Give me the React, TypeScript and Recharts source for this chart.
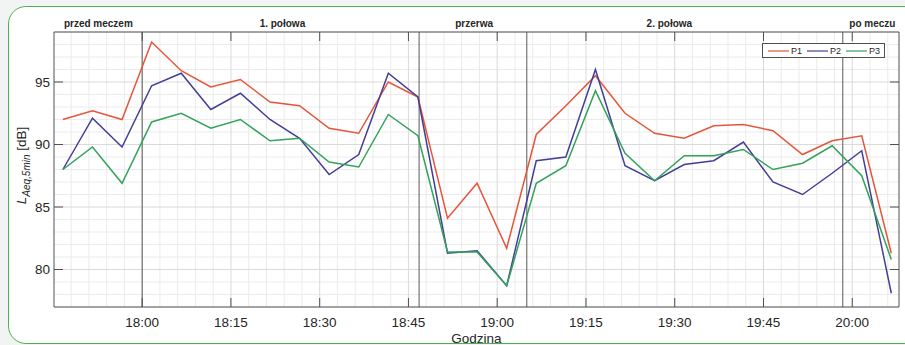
import React from 'react';
import { LineChart, Line, XAxis, YAxis, ReferenceLine } from 'recharts';

// 5-minute L_Aeq values, P1..P3, one per measurement time
const times = [
  '17:46:36', '17:51:36', '17:56:36', '18:01:36', '18:06:36', '18:11:36', '18:16:36', '18:21:36',
  '18:26:36', '18:31:36', '18:36:36', '18:41:36', '18:46:36', '18:51:36', '18:56:36', '19:01:36',
  '19:06:36', '19:11:36', '19:16:36', '19:21:36', '19:26:36', '19:31:36', '19:36:36', '19:41:36',
  '19:46:36', '19:51:36', '19:56:36', '20:01:36', '20:06:36',
];
const p1 = [92.0, 92.7, 92.0, 98.2, 95.9, 94.6, 95.2, 93.4, 93.1, 91.3, 90.9, 95.0, 93.8, 84.1, 86.9, 81.7,
  90.8, 93.1, 95.5, 92.5, 90.9, 90.5, 91.5, 91.6, 91.1, 89.2, 90.3, 90.7, 81.3];
const p2 = [88.0, 92.1, 89.8, 94.7, 95.7, 92.8, 94.1, 92.0, 90.5, 87.6, 89.2, 95.7, 93.8, 81.3, 81.5, 78.7,
  88.7, 89.0, 96.0, 88.3, 87.1, 88.4, 88.7, 90.2, 87.0, 86.0, 87.7, 89.5, 78.1];
const p3 = [88.0, 89.8, 86.9, 91.8, 92.5, 91.3, 92.0, 90.3, 90.5, 88.6, 88.2, 92.4, 90.7, 81.4, 81.4, 78.7,
  86.9, 88.3, 94.3, 89.3, 87.1, 89.1, 89.1, 89.6, 88.0, 88.5, 89.9, 87.5, 80.8];

// x in minutes after 18:00
const xTicks = [0, 15, 30, 45, 60, 75, 90, 105, 120];
const yTicks = [80, 85, 90, 95];
const phaseBounds = [0, 46.8, 65, 118.4];
const phaseNames = ['przed meczem', '1. połowa', 'przerwa', '2. połowa', 'po meczu'];
const phaseLabelAt = [-7.4, 23.7, 56.1, 89.1, 123.4];

const X_DOMAIN = [-14.9, 127.9];
const Y_DOMAIN = [77, 99];

const COLORS = { p1: '#e5553a', p2: '#433f98', p3: '#33a25a' };
const AXIS = '#505050';
const TEXT = '#262626';
const FONT = '"Liberation Sans", Arial, Helvetica, sans-serif';

const toMin = (s: string) => {
  const [h, m, sec] = s.split(':').map(Number);
  return (h - 18) * 60 + m + sec / 60;
};
const fmtTime = (v: number) => {
  const t = 18 * 60 + v;
  return `${Math.floor(t / 60)}:${String(t % 60).padStart(2, '0')}`;
};

const data = times.map((t, i) => ({ t: toMin(t), p1: p1[i], p2: p2[i], p3: p3[i] }));

// minor grid: every 3 min / every 1 dB
const minorX: number[] = [];
for (let v = -12; v <= 126; v += 3) if (v % 15 !== 0) minorX.push(v);
const minorY: number[] = [];
for (let v = 77; v <= 99; v += 1) if (v % 5 !== 0) minorY.push(v);

const NoTick = () => <g />;

const YLabel = (props: any) => {
  const vb = props.viewBox || { x: 0, y: 32, width: 54, height: 275 };
  const cx = vb.x + 26;
  const cy = vb.y + vb.height / 2 - 4;
  return (
    <text
      x={cx}
      y={cy}
      transform={`rotate(-90, ${cx}, ${cy})`}
      textAnchor="middle"
      fill={TEXT}
      fontSize={13.5}
      fontFamily={FONT}
    >
      <tspan fontStyle="italic">L</tspan>
      <tspan fontStyle="italic" fontSize={10} dy={4}>Aeq,5min</tspan>
      <tspan dy={-4}>  [dB]</tspan>
    </text>
  );
};

const LegendBox = () => (
  <div
    style={{
      position: 'absolute', left: 762, top: 43, height: 13, display: 'flex', alignItems: 'center',
      border: `1px solid ${AXIS}`, background: '#fff', padding: '0 4px 0 5px',
      fontFamily: FONT, fontSize: 9, color: TEXT,
    }}
  >
    {[['P1', COLORS.p1], ['P2', COLORS.p2], ['P3', COLORS.p3]].map(([name, c], i) => (
      <div key={name} style={{ display: 'flex', alignItems: 'center', marginLeft: i ? 5 : 0 }}>
        <svg width={21} height={4}><line x1={0} x2={21} y1={2} y2={2} stroke={c} strokeWidth={1.2} /></svg>
        <span style={{ marginLeft: 2 }}>{name}</span>
      </div>
    ))}
  </div>
);

export default function App() {
  return (
    <div style={{ position: 'absolute', left: 0, top: 0, width: 905, height: 345, overflow: 'hidden', background: '#f2f3f3' }}>
      <div
        style={{
          position: 'absolute', left: 8, top: 6, width: 912, height: 336,
          border: '1.5px solid #4cb050', borderRadius: 18, background: '#fff',
        }}
      />
      <div style={{ position: 'absolute', left: 0, top: 0 }}>
        <LineChart
          width={905}
          height={345}
          data={data}
          margin={{ top: 0, right: 0, bottom: 0, left: 0 }}
          style={{ fontFamily: FONT }}
        >
          {minorX.map((v) => (
            <ReferenceLine key={`mx${v}`} x={v} xAxisId="b" yAxisId="l" stroke="#ebebeb" strokeWidth={1} />
          ))}
          {minorY.map((v) => (
            <ReferenceLine key={`my${v}`} y={v} xAxisId="b" yAxisId="l" stroke="#ebebeb" strokeWidth={1} />
          ))}
          {xTicks.map((v) => (
            <ReferenceLine key={`Mx${v}`} x={v} xAxisId="b" yAxisId="l" stroke="#dadada" strokeWidth={1} />
          ))}
          {yTicks.map((v) => (
            <ReferenceLine key={`My${v}`} y={v} xAxisId="b" yAxisId="l" stroke="#dadada" strokeWidth={1} />
          ))}
          {phaseBounds.map((v) => (
            <ReferenceLine key={`ph${v}`} x={v} xAxisId="b" yAxisId="l" stroke="#5a5a5a" strokeWidth={1} />
          ))}
          {phaseLabelAt.map((v, i) => (
            <ReferenceLine
              key={`pl${v}`}
              x={v}
              xAxisId="b"
              yAxisId="l"
              stroke="none"
              label={{ value: phaseNames[i], position: 'top', offset: 5, fill: TEXT, fontSize: 10, fontWeight: 'bold' }}
            />
          ))}

          <XAxis
            xAxisId="b"
            dataKey="t"
            type="number"
            domain={X_DOMAIN}
            allowDataOverflow
            ticks={xTicks}
            interval={0}
            tickFormatter={fmtTime}
            height={38}
            tickSize={-9}
            tickMargin={19}
            stroke={AXIS}
            tick={{ fill: TEXT, fontSize: 13.5 }}
            label={{ value: 'Godzina', position: 'insideBottom', offset: 2, fill: TEXT, fontSize: 13.5 }}
          />
          <XAxis
            xAxisId="t"
            dataKey="t"
            orientation="top"
            type="number"
            domain={X_DOMAIN}
            allowDataOverflow
            ticks={xTicks}
            interval={0}
            height={32}
            tickSize={-9}
            stroke={AXIS}
            tick={NoTick}
          />
          <YAxis
            yAxisId="l"
            type="number"
            domain={Y_DOMAIN}
            allowDataOverflow
            ticks={yTicks}
            interval={0}
            width={54}
            tickSize={-9}
            tickMargin={13}
            stroke={AXIS}
            tick={{ fill: TEXT, fontSize: 13.5 }}
            label={<YLabel />}
          />
          <YAxis
            yAxisId="r"
            dataKey="p1"
            orientation="right"
            type="number"
            domain={Y_DOMAIN}
            allowDataOverflow
            ticks={yTicks}
            interval={0}
            width={6}
            tickSize={-9}
            stroke={AXIS}
            tick={NoTick}
          />

          <Line xAxisId="b" yAxisId="l" dataKey="p1" name="P1" stroke={COLORS.p1} strokeWidth={1.5} dot={false} isAnimationActive={false} />
          <Line xAxisId="b" yAxisId="l" dataKey="p2" name="P2" stroke={COLORS.p2} strokeWidth={1.5} dot={false} isAnimationActive={false} />
          <Line xAxisId="b" yAxisId="l" dataKey="p3" name="P3" stroke={COLORS.p3} strokeWidth={1.5} dot={false} isAnimationActive={false} />
        </LineChart>
      </div>
      <LegendBox />
    </div>
  );
}
